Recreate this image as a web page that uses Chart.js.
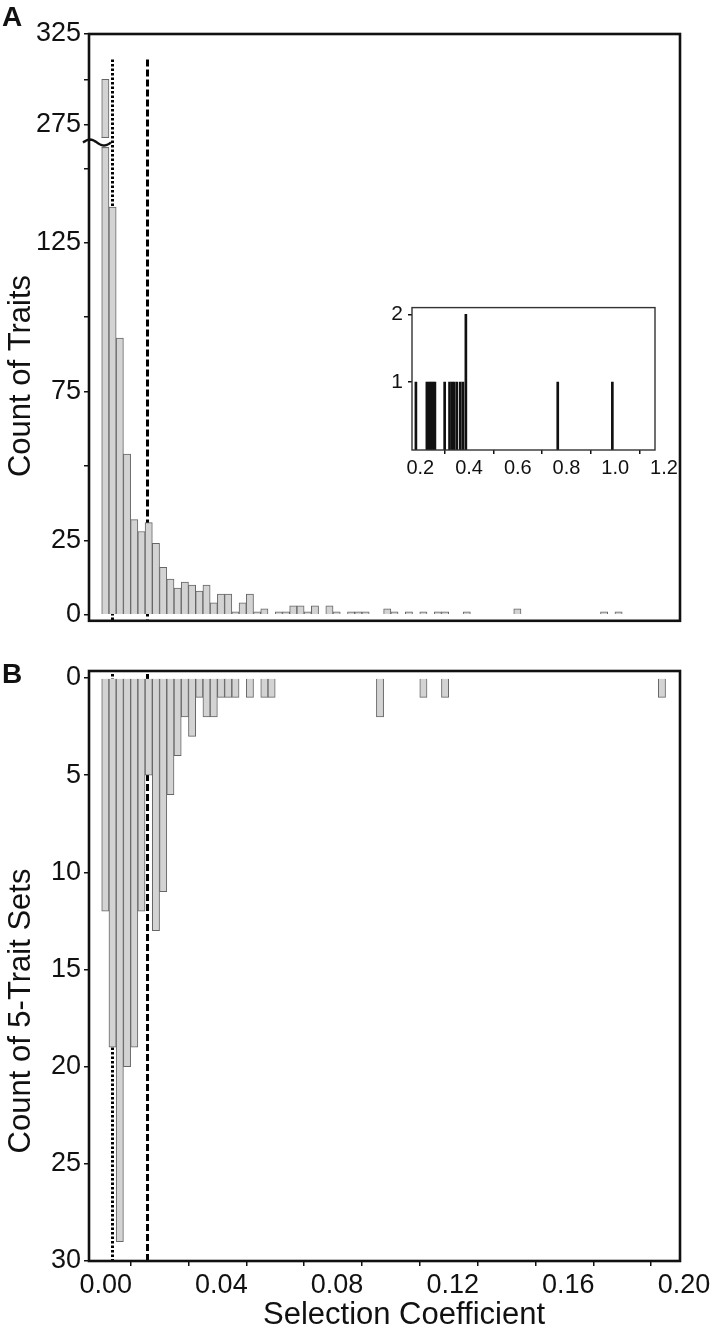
<!DOCTYPE html>
<html lang="en">
<head>
<meta charset="UTF-8">
<title>Selection Coefficient Histograms</title>
<script src="https://cdn.jsdelivr.net/npm/chart.js"></script>
<style>
  body { margin: 0; background: #fff; }
  #wrap { position: relative; width: 720px; height: 1337px; }
  .pane { position: absolute; }
</style>
</head>
<body>
<div id="wrap">
  <div class="pane" style="left:0;top:0;width:720px;height:640px"><canvas id="chartA"></canvas></div>
  <div class="pane" style="left:0;top:640px;width:720px;height:697px"><canvas id="chartB"></canvas></div>
  <div class="pane" style="left:360px;top:290px;width:330px;height:190px"><canvas id="chartInset"></canvas></div>
</div>
<script>
// histogram bins, width 0.0025, first bin starts at 0
const binWidth = 0.0025;
const traitCounts = [
  300, 137, 93, 54, 32, 28, 31, 24, 16, 12,
  9, 11, 10, 8, 10, 4, 7, 7, 1, 4,
  7, 1, 2, 0, 1, 1, 3, 3, 1, 3,
  0, 3, 1, 0, 1, 1, 1, 0, 0, 2,
  1, 0, 1, 0, 1, 0, 1, 1, 0, 0,
  1, 0, 0, 0, 0, 0, 0, 2, 0, 0,
  0, 0, 0, 0, 0, 0, 0, 0, 0, 1,
  0, 1
];
const setCounts = [
  12, 19, 29, 20, 19, 12, 5, 13, 11, 6,
  4, 2, 3, 1, 2, 2, 1, 1, 1, 0,
  1, 0, 1, 1, 0, 0, 0, 0, 0, 0,
  0, 0, 0, 0, 0, 0, 0, 0, 2, 0,
  0, 0, 0, 0, 1, 0, 0, 1, 0, 0,
  0, 0, 0, 0, 0, 0, 0, 0, 0, 0,
  0, 0, 0, 0, 0, 0, 0, 0, 0, 0,
  0, 0, 0, 0, 0, 0, 0, 1
];
// dotted and dashed reference lines
const refLineValues = [0.0036, 0.0156];

// inset: the traits with the largest selection coefficients
const insetS = [0.182, 0.227, 0.236, 0.244, 0.252, 0.260, 0.300, 0.320, 0.330, 0.339, 0.350, 0.364, 0.375, 0.387, 0.764, 0.988];
const insetCounts = [1, 1, 1, 1, 1, 1, 1, 1, 1, 1, 1, 1, 1, 2, 1, 1];

// ticks
const xTicks = [0, 0.02, 0.04, 0.06, 0.08, 0.10, 0.12, 0.14, 0.16, 0.18, 0.20];
const xLabels = [0, 0.04, 0.08, 0.12, 0.16, 0.20];
const yTicksA = [0, 25, 50, 75, 100, 125, 150, 275, 300, 325];
const yLabelsA = [0, 25, 75, 125, 275, 325];
const yTicksB = [0, 5, 10, 15, 20, 25, 30];
const insetXTicks = [0.2, 0.4, 0.6, 0.8, 1.0, 1.2];
const insetYTicks = [1, 2];

// ---- broken y axis for panel A ----
const BREAK_LOW = 157, BREAK_HIGH = 268, BREAK_GAP = 3.4, UPPER_RATIO = 0.61;
function brokenFwd(v) {
  if (v <= BREAK_LOW) return v;
  if (v >= BREAK_HIGH) return BREAK_LOW + BREAK_GAP + (v - BREAK_HIGH) * UPPER_RATIO;
  return BREAK_LOW + BREAK_GAP * (v - BREAK_LOW) / (BREAK_HIGH - BREAK_LOW);
}
class BrokenLinearScale extends Chart.LinearScale {
  getPixelForValue(value) {
    if (value === null || value === undefined) return NaN;
    const a = brokenFwd(this.min), b = brokenFwd(this.max);
    return this.getPixelForDecimal((brokenFwd(value) - a) / (b - a));
  }
}
BrokenLinearScale.id = 'brokenLinear';
BrokenLinearScale.defaults = Chart.LinearScale.defaults;
Chart.register(BrokenLinearScale);

// ---- styles ----
const FONT = "'Liberation Sans', Arial, sans-serif";
const INK = '#111';
const barFill = '#d3d3d3';
const barEdge = '#666';
const X_MIN = -0.0044, X_MAX = 0.2;

function toBars(counts) {
  return counts.map((c, i) => ({ x: (i + 0.5) * binWidth, y: c === 0 ? null : c }));
}

function tickGrid(len) {
  return { drawOnChartArea: false, drawTicks: true, tickLength: len, color: INK, lineWidth: 1.5 };
}

function drawRefLines(chart, yTop) {
  const { ctx, chartArea, scales } = chart;
  const dashes = [[2.5, 2], [7, 3]];
  ctx.save();
  ctx.strokeStyle = '#000';
  ctx.lineWidth = 3;
  refLineValues.forEach((v, i) => {
    const px = Math.round(scales.x.getPixelForValue(v)) + 0.5;
    ctx.setLineDash(dashes[i]);
    ctx.beginPath();
    ctx.moveTo(px, yTop);
    ctx.lineTo(px, chartArea.bottom);
    ctx.stroke();
  });
  ctx.restore();
}

function drawFrame(chart, lw, color) {
  const { ctx, chartArea: a } = chart;
  ctx.save();
  ctx.strokeStyle = color;
  ctx.lineWidth = lw;
  ctx.strokeRect(a.left, a.top, a.right - a.left, a.bottom - a.top);
  ctx.restore();
}

function drawText(ctx, text, x, y, font, rotate, align, baseline) {
  ctx.save();
  ctx.fillStyle = INK;
  ctx.font = font;
  ctx.textAlign = align || 'center';
  ctx.textBaseline = baseline || 'middle';
  ctx.translate(x, y);
  if (rotate) ctx.rotate(-Math.PI / 2);
  ctx.fillText(text, 0, 0);
  ctx.restore();
}

const common = {
  animation: false,
  responsive: true,
  maintainAspectRatio: false,
  events: [],
  plugins: { legend: { display: false }, tooltip: { enabled: false } }
};

// ---- panel A ----
const panelA = {
  id: 'panelA',
  beforeDatasetsDraw(chart) {
    drawRefLines(chart, chart.scales.y.getPixelForValue(311));
  },
  afterDatasetsDraw(chart) {
    const { ctx, chartArea, scales } = chart;
    const bar = chart.getDatasetMeta(0).data[0];
    const xL = bar.x - bar.width / 2, xR = bar.x + bar.width / 2;
    const yT = scales.y.getPixelForValue(BREAK_HIGH), yB = scales.y.getPixelForValue(BREAK_LOW);
    ctx.save();
    ctx.fillStyle = '#fff';
    ctx.fillRect(xL - 1, yT + 0.5, xR - xL + 2, yB - yT - 1);
    ctx.strokeStyle = barEdge;
    ctx.lineWidth = 1;
    ctx.beginPath();
    ctx.moveTo(xL, yT); ctx.lineTo(xR, yT);
    ctx.moveTo(xL, yB); ctx.lineTo(xR, yB);
    ctx.stroke();
    // break mark
    const yc = (yT + yB) / 2, x0 = chartArea.left - 6, w = xR + 2 - x0;
    ctx.strokeStyle = INK;
    ctx.lineWidth = 2.4;
    ctx.beginPath();
    for (let t = 0; t <= 1.0001; t += 0.05) {
      const px = x0 + t * w, py = yc - 3 * Math.sin(2 * Math.PI * t);
      if (t === 0) ctx.moveTo(px, py); else ctx.lineTo(px, py);
    }
    ctx.stroke();
    ctx.restore();
    drawFrame(chart, 2.6, INK);
  },
  afterDraw(chart) {
    const ctx = chart.ctx;
    drawText(ctx, 'A', 2, 26, 'bold 28px ' + FONT, false, 'left', 'alphabetic');
    drawText(ctx, 'Count of Traits', 21, 376, '31px ' + FONT, true);
  }
};

new Chart(document.getElementById('chartA'), {
  type: 'bar',
  data: {
    datasets: [{
      data: toBars(traitCounts),
      backgroundColor: barFill,
      borderColor: barEdge,
      borderWidth: 1,
      barPercentage: 1,
      categoryPercentage: 1
    }]
  },
  options: {
    ...common,
    layout: { padding: { top: 34, right: 40, bottom: 18, left: 0 } },
    scales: {
      x: {
        type: 'linear', display: false, offset: false, min: X_MIN, max: X_MAX,
        afterBuildTicks: s => { s.ticks = xTicks.map(v => ({ value: v })); }
      },
      y: {
        type: 'brokenLinear', min: -2, max: 325,
        afterBuildTicks: s => { s.ticks = yTicksA.map(v => ({ value: v })); },
        afterFit: s => { s.width = 89; },
        ticks: {
          autoSkip: false, padding: 3, color: INK,
          font: { family: FONT, size: 27 },
          callback: v => (yLabelsA.includes(v) ? String(v) : '')
        },
        grid: tickGrid(5),
        border: { display: false }
      }
    }
  },
  plugins: [panelA]
});

// ---- panel B ----
const panelB = {
  id: 'panelB',
  beforeDatasetsDraw(chart) {
    drawRefLines(chart, chart.chartArea.top + 3);
  },
  afterDatasetsDraw(chart) {
    drawFrame(chart, 2.6, INK);
  },
  afterDraw(chart) {
    const ctx = chart.ctx;
    drawText(ctx, 'B', 2, 43, 'bold 28px ' + FONT, false, 'left', 'alphabetic');
    drawText(ctx, 'Count of 5-Trait Sets', 21, 371, '31px ' + FONT, true);
    drawText(ctx, 'Selection Coefficient', 404, 675, '31px ' + FONT, false);
  }
};

new Chart(document.getElementById('chartB'), {
  type: 'bar',
  data: {
    datasets: [{
      data: toBars(setCounts),
      backgroundColor: barFill,
      borderColor: barEdge,
      borderWidth: 1,
      barPercentage: 1,
      categoryPercentage: 1
    }]
  },
  options: {
    ...common,
    layout: { padding: { top: 31, right: 40, bottom: 0, left: 0 } },
    scales: {
      x: {
        type: 'linear', offset: false, min: X_MIN, max: X_MAX,
        afterBuildTicks: s => { s.ticks = xTicks.map(v => ({ value: v })); },
        afterFit: s => { s.height = 76; },
        ticks: {
          autoSkip: false, maxRotation: 0, padding: 3, labelOffset: 4, color: INK,
          font: { family: FONT, size: 27 },
          callback: v => (xLabels.some(l => Math.abs(l - v) < 1e-9) ? v.toFixed(2) : '')
        },
        grid: tickGrid(5),
        border: { display: false }
      },
      y: {
        type: 'linear', reverse: true, min: -0.36, max: 30,
        afterBuildTicks: s => { s.ticks = yTicksB.map(v => ({ value: v })); },
        afterFit: s => { s.width = 89; },
        ticks: { autoSkip: false, padding: 3, color: INK, font: { family: FONT, size: 27 } },
        grid: tickGrid(5),
        border: { display: false }
      }
    }
  },
  plugins: [panelB]
});

// ---- inset ----
new Chart(document.getElementById('chartInset'), {
  type: 'bar',
  data: {
    datasets: [{
      data: insetS.map((s, i) => ({ x: s, y: insetCounts[i] })),
      backgroundColor: INK,
      borderWidth: 0,
      barThickness: 2
    }]
  },
  options: {
    ...common,
    layout: { padding: { top: 17, right: 35, bottom: 0, left: 0 } },
    scales: {
      x: {
        type: 'linear', offset: false, min: 0.166, max: 1.163,
        afterBuildTicks: s => { s.ticks = insetXTicks.map(v => ({ value: v })); },
        afterFit: s => { s.height = 30; },
        ticks: { autoSkip: false, maxRotation: 0, padding: 2, color: INK, font: { family: FONT, size: 20 }, callback: v => v.toFixed(1) },
        grid: tickGrid(4),
        border: { display: false }
      },
      y: {
        type: 'linear', min: 0, max: 2.1,
        afterBuildTicks: s => { s.ticks = insetYTicks.map(v => ({ value: v })); },
        afterFit: s => { s.width = 52; },
        ticks: { autoSkip: false, padding: 5, color: INK, font: { family: FONT, size: 21 } },
        grid: tickGrid(4),
        border: { display: false }
      }
    }
  },
  plugins: [{ id: 'insetFrame', afterDatasetsDraw: c => drawFrame(c, 1.4, '#333') }]
});
</script>
</body>
</html>
